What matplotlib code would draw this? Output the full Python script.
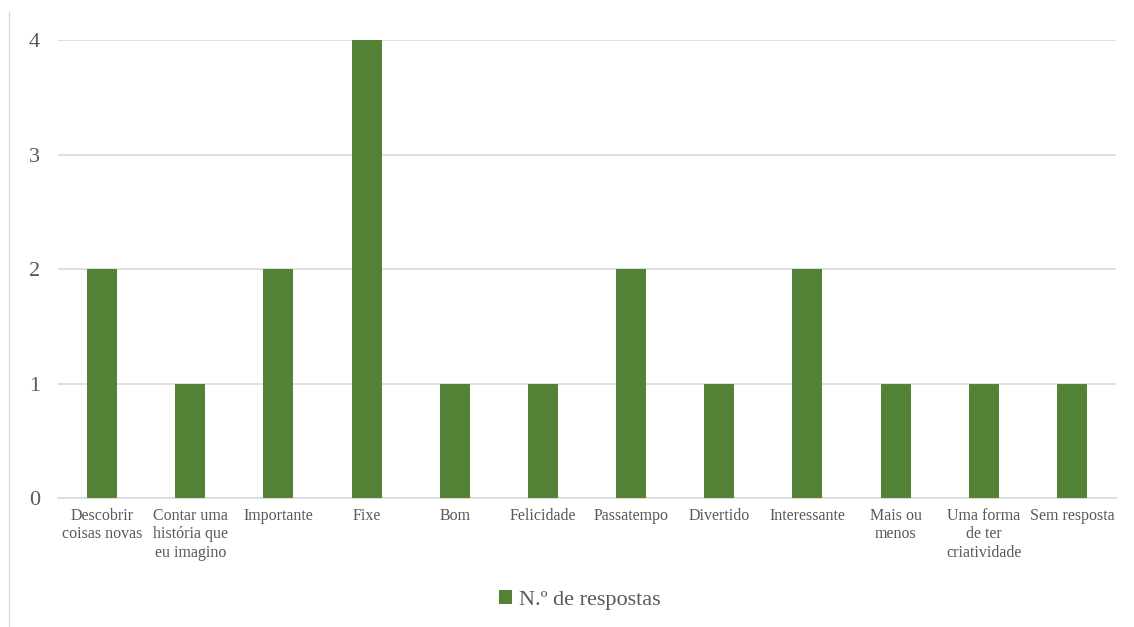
import matplotlib.pyplot as plt
from matplotlib.lines import Line2D

plt.rcParams['font.family'] = ['Liberation Serif', 'DejaVu Serif']

# dados
categorias = ['Descobrir\ncoisas novas', 'Contar uma\nhistória que\neu imagino', 'Importante',
              'Fixe', 'Bom', 'Felicidade', 'Passatempo', 'Divertido', 'Interessante',
              'Mais ou\nmenos', 'Uma forma\nde ter\ncriatividade', 'Sem resposta']
respostas = [2, 1, 2, 4, 1, 1, 2, 1, 2, 1, 1, 1]
yticks = [0, 1, 2, 3, 4]

verde = '#538135'
cinza = '#595959'

fig = plt.figure(figsize=(11.34, 6.27), dpi=100)
ax = fig.add_axes([0.0511, 0.2057, 0.9330, 0.7305])

x = range(len(categorias))
ax.bar(x, respostas, width=0.34, color=verde, label='N.º de respostas', zorder=3)

ax.set_xlim(-0.5, len(categorias) - 0.5)
ax.set_ylim(0, 4)
ax.set_yticks(yticks)
ax.set_yticklabels([str(v) for v in yticks], fontsize=16, color=cinza)
ax.set_xticks(list(x))
ax.set_xticklabels(categorias, fontsize=11.5, color=cinza, linespacing=1.2)
ax.tick_params(axis='both', length=0)
ax.tick_params(axis='y', pad=13)
ax.tick_params(axis='x', pad=7)

ax.grid(axis='y', color='#d9d9d9', linewidth=1.2, zorder=0)
for s in ['top', 'right', 'left']:
    ax.spines[s].set_visible(False)
ax.spines['bottom'].set_color('#d9d9d9')
ax.spines['bottom'].set_linewidth(1.2)

leg = fig.legend(loc='center', bbox_to_anchor=(0.511, 0.043), frameon=False,
                 fontsize=16, handlelength=0.6, handleheight=0.6, handletextpad=0.3)
for t in leg.get_texts():
    t.set_color(cinza)

# borda à esquerda
fig.add_artist(Line2D([9 / 1134, 9 / 1134], [0, 1 - 12 / 627], transform=fig.transFigure,
                      color='#d9d9d9', linewidth=1))

fig.savefig('out.png', dpi=100)
